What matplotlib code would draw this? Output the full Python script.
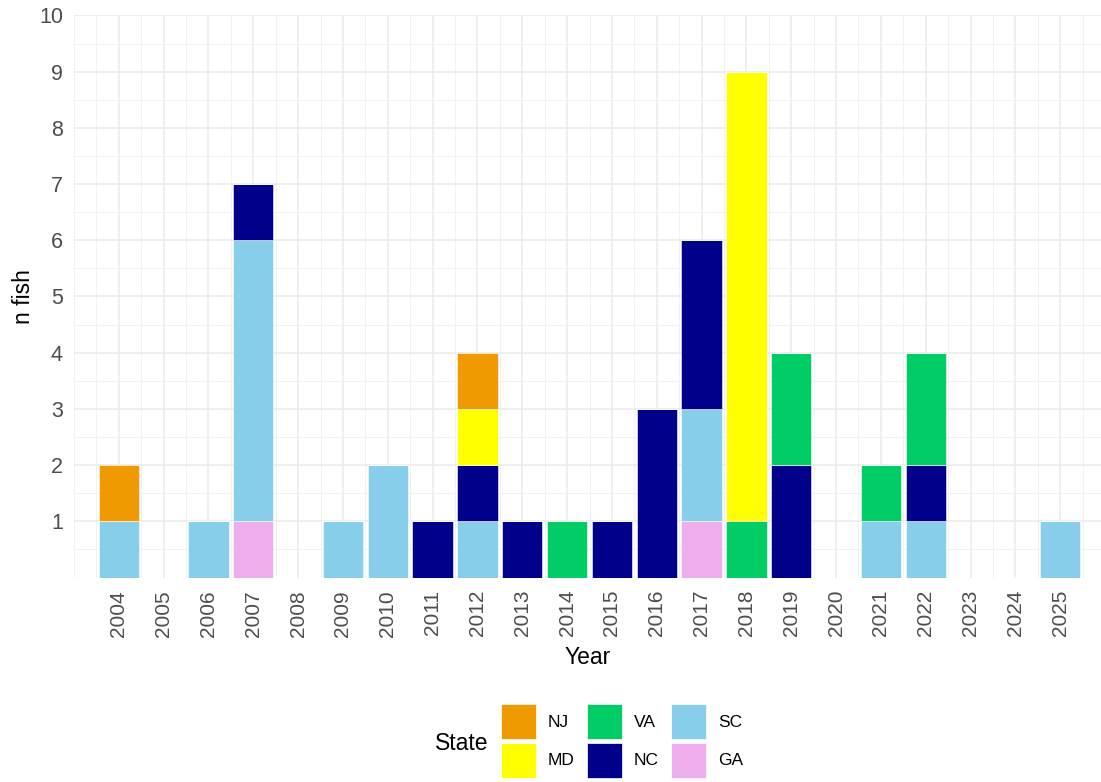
import matplotlib
matplotlib.use("Agg")
import matplotlib.pyplot as plt
from matplotlib.patches import Patch
import numpy as np

plt.rcParams['font.family'] = ['Liberation Sans', 'DejaVu Sans']

years = list(range(2004, 2026))
# values per state, one per year (2004..2025)
NJ = [1,0,0,0,0,0,0,0,1,0,0,0,0,0,0,0,0,0,0,0,0,0]
MD = [0,0,0,0,0,0,0,0,1,0,0,0,0,0,8,0,0,0,0,0,0,0]
VA = [0,0,0,0,0,0,0,0,0,0,1,0,0,0,1,2,0,1,2,0,0,0]
NC = [0,0,0,1,0,0,0,1,1,1,0,1,3,3,0,2,0,0,1,0,0,0]
SC = [1,0,1,5,0,1,2,0,1,0,0,0,0,2,0,0,0,1,1,0,0,1]
GA = [0,0,0,1,0,0,0,0,0,0,0,0,0,1,0,0,0,0,0,0,0,0]

states = ["NJ", "MD", "VA", "NC", "SC", "GA"]
series = {"NJ": NJ, "MD": MD, "VA": VA, "NC": NC, "SC": SC, "GA": GA}
colors = {"NJ": "#EE9A00", "MD": "#FFFF00", "VA": "#00CD66",
          "NC": "#00008B", "SC": "#87CEEB", "GA": "#EEAEEE"}
yticks = list(range(1, 11))

W, H = 1101, 782
fig = plt.figure(figsize=(W/100, H/100), dpi=100)
left, right, top, bottom = 74, 1101, 15.5, 577.5
ax = fig.add_axes([left/W, 1-bottom/H, (right-left)/W, (bottom-top)/H])

x = np.array(years, dtype=float)
base = np.zeros(len(years))
# stacking order bottom to top: GA, SC, NC, VA, MD, NJ
for s in reversed(states):
    vals = np.array(series[s], dtype=float)
    ax.bar(x, vals, width=0.9, bottom=base, color=colors[s],
           edgecolor="white", linewidth=0.4, zorder=3)
    base += vals

ax.set_xlim(2003.0, 2025.91)
ax.set_ylim(0, 10)
ax.set_xticks(years)
ax.set_xticklabels([str(y) for y in years], rotation=90, fontsize=15, color="#4D4D4D")
ax.set_yticks(yticks)
ax.set_yticklabels([str(v) for v in yticks], fontsize=15.5, color="#4D4D4D")
ax.set_xticks(np.arange(2003.0, 2026.0, 0.5), minor=True)
ax.set_yticks(np.arange(0, 10.01, 0.5), minor=True)
ax.tick_params(axis="both", which="both", length=0)
ax.tick_params(axis="x", which="major", pad=9)
ax.tick_params(axis="y", which="major", pad=8)
ax.grid(True, which="minor", color="#F0F0F0", linewidth=0.6, zorder=0)
ax.grid(True, which="major", color="#EBEBEB", linewidth=1.1, zorder=0)
ax.set_axisbelow(True)
for sp in ax.spines.values():
    sp.set_visible(False)

ax.set_xlabel("Year", fontsize=16.5, labelpad=7)
fig.text(24/W, 1-296.5/H, "n fish", rotation=90, fontsize=16.5, ha="center", va="center")

handles = [Patch(facecolor=colors[s], edgecolor="white", linewidth=0.5, label=s) for s in states]
fig.legend(handles=handles, ncol=3, loc="upper left",
           bbox_to_anchor=(501/W, 1-704/H), frameon=False, fontsize=12.5,
           handlelength=2.0, handleheight=2.72, handletextpad=0.7,
           columnspacing=0.7, labelspacing=0.22, borderpad=0, borderaxespad=0)
fig.text(435/W, 1-744/H, "State", fontsize=16.5, ha="left", va="center")

fig.savefig("out.png", dpi=100)
